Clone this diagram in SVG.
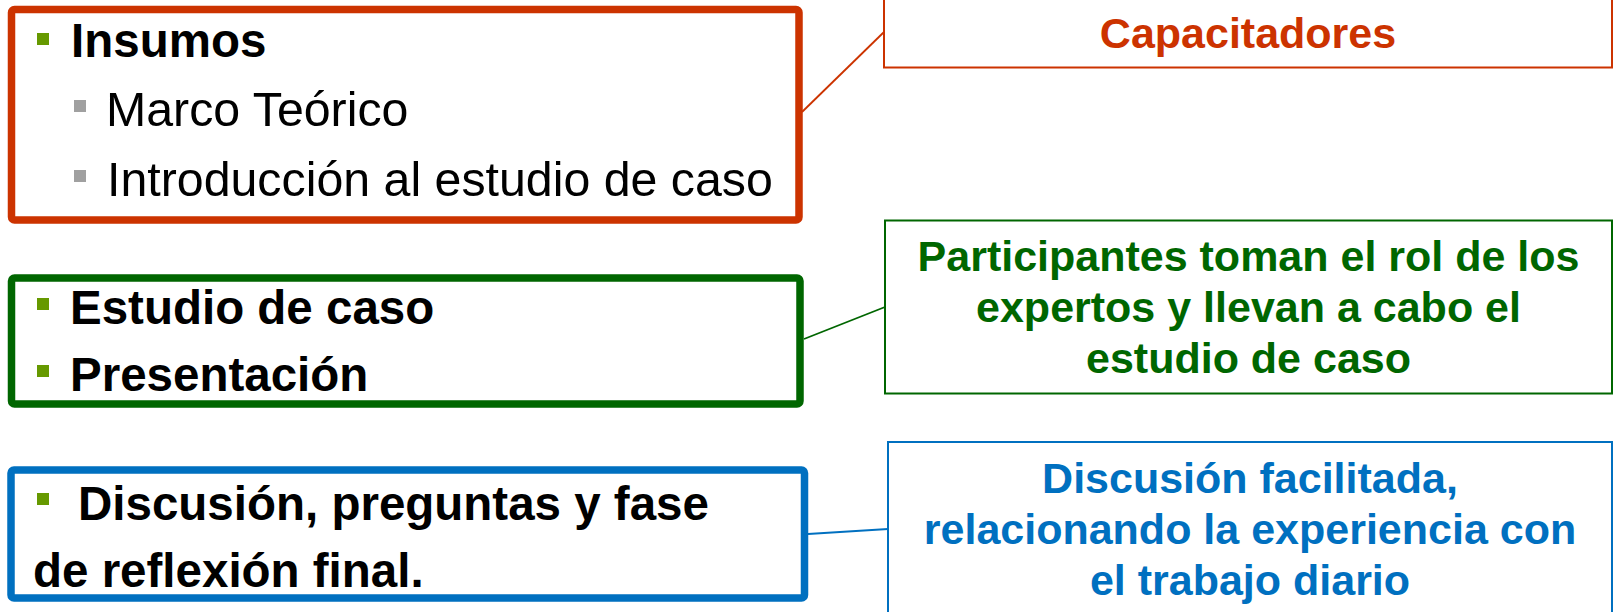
<svg xmlns="http://www.w3.org/2000/svg" width="1614" height="612" viewBox="0 0 1614 612">
<style>
text{font-family:"Liberation Sans",Arial,sans-serif}
.b{font-weight:bold}
.big{font-size:47.5px;fill:#000}
.reg{font-size:48.3px;fill:#000}
.rt{font-size:43px;font-weight:bold;text-anchor:middle}
.frame{fill:#fff;stroke-width:7.5;stroke-linejoin:round}
.lbl{fill:#fff;stroke-width:2}
.gb{fill:#669900}
.yb{fill:#A0A0A0}
</style>
<rect width="1614" height="612" fill="#fff"/>
<g id="connectors" fill="none" stroke-width="1.8">
<line x1="802" y1="112" x2="884" y2="32" stroke="#CC3300"/>
<line x1="804" y1="339" x2="885" y2="307" stroke="#006600"/>
<line x1="808" y1="534" x2="888" y2="529" stroke="#0070C0"/>
</g>
<g id="insumos">
<rect class="frame" x="11.5" y="9.5" width="787.5" height="210.5" rx="3" stroke="#CC3300"/>
<rect class="gb" x="37" y="33" width="12" height="12"/>
<text class="big b" x="71" y="57">Insumos</text>
<rect class="yb" x="74" y="100" width="12" height="12"/>
<text class="reg" x="106" y="126">Marco Teórico</text>
<rect class="yb" x="74" y="170" width="12" height="12"/>
<text class="reg" x="107" y="195.5">Introducción al estudio de caso</text>
</g>
<g id="estudio">
<rect class="frame" x="11.5" y="278" width="788.5" height="126" rx="3" stroke="#006600"/>
<rect class="gb" x="37" y="298" width="12" height="12"/>
<text class="big b" x="70" y="324">Estudio de caso</text>
<rect class="gb" x="37" y="365" width="12" height="12"/>
<text class="big b" x="70" y="391">Presentación</text>
</g>
<g id="discusion">
<rect class="frame" x="11" y="470" width="793.5" height="128" rx="3" stroke="#0070C0"/>
<rect class="gb" x="37" y="493" width="12" height="12"/>
<text class="big b" x="78" y="520">Discusión, preguntas y fase</text>
<text class="big b" x="33" y="587">de reflexión final.</text>
</g>
<g id="capacitadores">
<rect class="lbl" x="884" y="-5" width="728" height="72.5" stroke="#CC3300"/>
<text class="rt" x="1248" y="48" fill="#CC3300">Capacitadores</text>
</g>
<g id="participantes">
<rect class="lbl" x="885" y="220.5" width="727" height="173" stroke="#006600"/>
<text class="rt" fill="#006600"><tspan x="1248.5" y="271">Participantes toman el rol de los</tspan><tspan x="1248.5" y="322">expertos y llevan a cabo el</tspan><tspan x="1248.5" y="373">estudio de caso</tspan></text>
</g>
<g id="facilitada">
<rect class="lbl" x="888" y="442" width="724" height="200" stroke="#0070C0"/>
<text class="rt" fill="#0070C0"><tspan x="1250" y="493">Discusión facilitada,</tspan><tspan x="1250" y="544">relacionando la experiencia con</tspan><tspan x="1250" y="595">el trabajo diario</tspan></text>
</g>
</svg>
